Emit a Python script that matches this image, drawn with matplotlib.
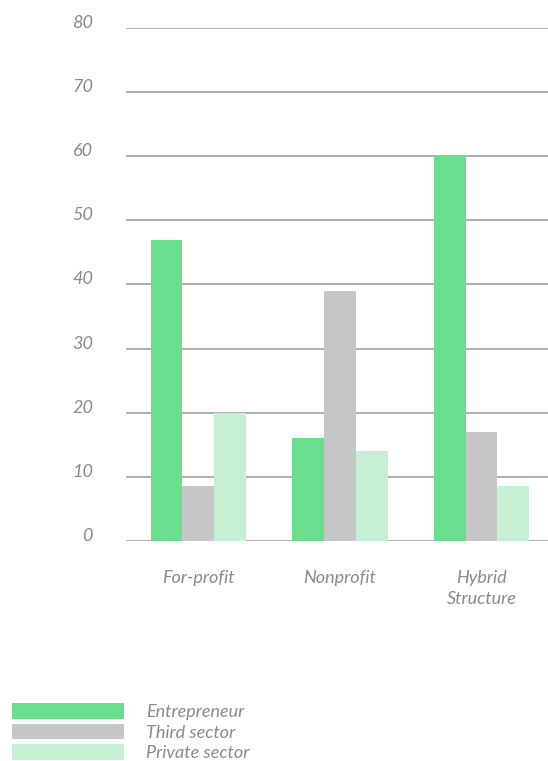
import numpy as np
import matplotlib
matplotlib.use("Agg")
import matplotlib.pyplot as plt
from matplotlib.patches import Patch
from matplotlib.transforms import offset_copy

# data
categories = ["For-profit", "Nonprofit", "Hybrid\nStructure"]
series_names = ["Entrepreneur", "Third sector", "Private sector"]
entrepreneur = [47, 16, 60]
third_sector = [8.5, 39, 17]
private_sector = [20, 14, 8.5]
yticks = [0, 10, 20, 30, 40, 50, 60, 70, 80]

colors = ["#69DE8D", "#C6C7C9", "#C5F0D3"]
txt = "#8a8a8a"

plt.rcParams["font.family"] = ["Lato", "DejaVu Sans"]
plt.rcParams["font.style"] = "italic"

fig = plt.figure(figsize=(5.48, 7.61), dpi=100)
ax = fig.add_axes([0.230, 0.2891, 0.770, 0.6741])

x = np.arange(len(categories))
w = 0.226
for i, vals in enumerate([entrepreneur, third_sector, private_sector]):
    ax.bar(x + (i - 1) * w, vals, width=w, color=colors[i], zorder=3)

ax.set_ylim(0, 80)
ax.set_xlim(-0.512, 2.47)
ax.set_yticks(yticks)
ax.set_yticklabels([])
# y labels drawn as text, sitting just above each grid line
ylab_tr = offset_copy(ax.get_yaxis_transform(), fig=fig, x=-33, y=5, units="dots")
for v in yticks:
    ax.text(0, v, str(v), transform=ylab_tr, ha="right", va="center",
            color=txt, fontsize=13)
ax.tick_params(axis="y", length=0)
ax.tick_params(axis="x", length=0, pad=21)
ax.set_xticks(x)
ax.set_xticklabels(categories, color=txt, fontsize=13, linespacing=1.4)
ax.grid(axis="y", color="#a0a0a0", linewidth=1.2, zorder=0)
for s in ax.spines.values():
    s.set_visible(False)

handles = [Patch(facecolor=c, edgecolor="none") for c in colors]
fig.legend(handles, series_names, loc="upper left",
           bbox_to_anchor=(0.022, 0.076), frameon=False, fontsize=13,
           labelcolor=txt, handlelength=6.2, handleheight=0.95,
           handletextpad=1.2, labelspacing=0.2, borderpad=0,
           borderaxespad=0)

fig.savefig("out.png", dpi=100)
